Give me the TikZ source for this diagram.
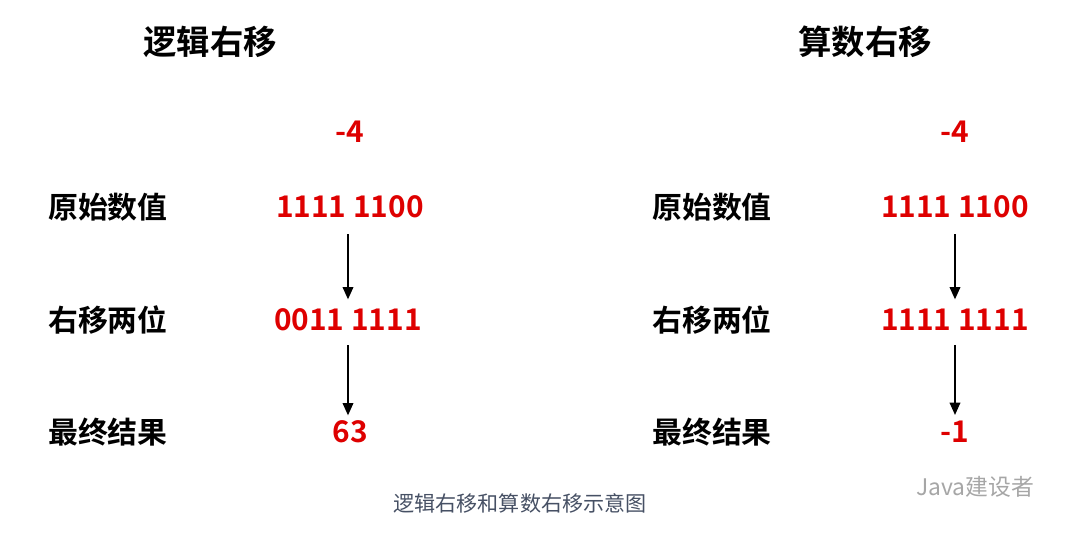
\documentclass[tikz,border=0pt]{standalone}
\usepackage{fontspec}
\usetikzlibrary{arrows.meta}
\setmainfont{Noto Sans CJK SC}
\newfontfamily\cjkbold{Noto Sans CJK SC Bold}
\definecolor{shiftred}{RGB}{222,0,0}
\definecolor{capgray}{RGB}{70,80,100}
\tikzset{
  title/.style={font=\cjkbold\fontsize{19}{21}\selectfont},
  label/.style={font=\cjkbold\fontsize{17}{19}\selectfont},
  value/.style={font=\cjkbold\fontsize{17}{19}\selectfont,text=shiftred},
  shiftarrow/.style={-{Triangle[length=7pt,width=6pt]},line width=1pt}
}
\begin{document}
\begin{tikzpicture}[x=0.02cm,y=-0.02cm]
    \useasboundingbox (0,0) rectangle (1080,533);
    % left: logical shift
    \node[title] (ltitle) at (210,42) {逻辑右移};
    \node[value] (lminus) at (350,132) {-4};
    \node[label] (lorig) at (108,207) {原始数值};
    \node[value] (lorigv) at (350,207) {1111 1100};
    \node[label] (lshift) at (108,320) {右移两位};
    \node[value] (lshiftv) at (348,320) {0011 1111};
    \node[label] (lres) at (108,432) {最终结果};
    \node[value] (lresv) at (350,432) {63};
    \draw[shiftarrow] (lorigv.south) ++(-2,10) -- ++(0,65);
    \draw[shiftarrow] (lshiftv.south) ++(0,8) -- ++(0,70);
    % right: arithmetic shift
    \node[title] (rtitle) at (865,42) {算数右移};
    \node[value] (rminus) at (955,132) {-4};
    \node[label] (rorig) at (712,207) {原始数值};
    \node[value] (rorigv) at (955,207) {1111 1100};
    \node[label] (rshift) at (712,320) {右移两位};
    \node[value] (rshiftv) at (955,320) {1111 1111};
    \node[label] (rres) at (712,432) {最终结果};
    \node[value] (rresv) at (955,432) {-1};
    \draw[shiftarrow] (rorigv.south) ++(0,10) -- ++(0,65);
    \draw[shiftarrow] (rshiftv.south) ++(0,8) -- ++(0,70);
    % caption and mark
    \node[text=capgray,font=\fontsize{12}{14}\selectfont] (caption) at (520,503) {逻辑右移和算数右移示意图};
    \node[text=gray!70,font=\fontsize{13}{15}\selectfont] (mark) at (975,487) {Java建设者};
\end{tikzpicture}
\end{document}
